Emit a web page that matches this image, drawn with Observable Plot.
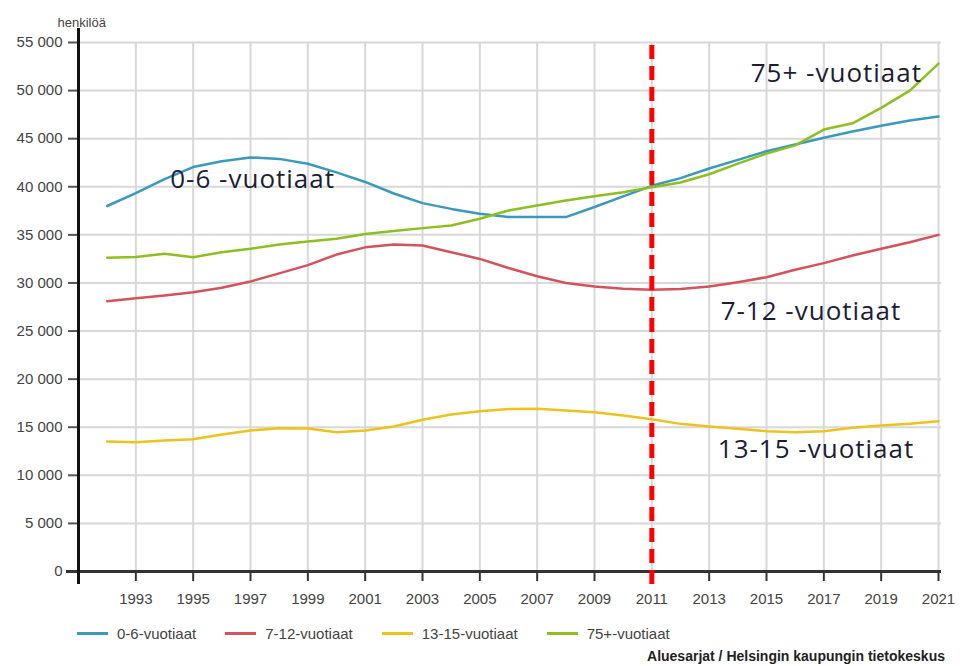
<!DOCTYPE html>
<html><head><meta charset="utf-8">
<script src="https://cdn.jsdelivr.net/npm/d3@7"></script>
<script src="https://cdn.jsdelivr.net/npm/@observablehq/plot@0.6"></script>
<style>
body{margin:0;background:#fff;font-family:"Liberation Sans",Arial,sans-serif;}
#wrap{position:relative;width:960px;height:666px;overflow:hidden;}
#legend{position:absolute;left:77px;top:625px;display:flex;align-items:center;font-size:15px;color:#444;}
.item{display:flex;align-items:center;margin-right:29px}
.sw{width:31px;height:3px;margin-right:9px}
#caption{position:absolute;right:15px;top:648px;font-size:14px;font-weight:bold;color:#222}
.ann text{letter-spacing:1px}
</style></head><body>
<div id="wrap"><div id="chart"></div><div id="legend"></div><div id="caption">Aluesarjat / Helsingin kaupungin tietokeskus</div></div>
<script>
const years = [1992,1993,1994,1995,1996,1997,1998,1999,2000,2001,2002,2003,2004,2005,2006,2007,2008,2009,2010,2011,2012,2013,2014,2015,2016,2017,2018,2019,2020,2021];
const seriesNames = ["0-6-vuotiaat","7-12-vuotiaat","13-15-vuotiaat","75+-vuotiaat"];
const colors = ["#3a99bd","#d6525a","#eec21c","#8cc021"];
const age0_6 = [38000,39350,40800,42050,42650,43050,42900,42400,41500,40500,39300,38300,37700,37200,36850,36850,36850,37900,39000,40100,40900,41900,42800,43700,44400,45100,45750,46350,46900,47300];
const age7_12 = [28100,28420,28700,29040,29500,30150,31000,31850,32950,33700,34000,33900,33200,32500,31550,30700,30000,29630,29390,29290,29380,29620,30080,30600,31370,32060,32850,33550,34240,35000];
const age13_15 = [13520,13450,13620,13760,14240,14660,14900,14870,14480,14660,15080,15770,16320,16670,16900,16910,16740,16560,16220,15820,15350,15080,14840,14590,14480,14590,14940,15180,15350,15630];
const age75 = [32620,32700,33030,32680,33200,33550,34000,34300,34600,35100,35400,35700,35970,36670,37530,38050,38570,39020,39440,39960,40450,41300,42400,43450,44300,45950,46600,48200,50000,52800];
const xTicks = [1993,1995,1997,1999,2001,2003,2005,2007,2009,2011,2013,2015,2017,2019,2021];
const yTicks = [0,5000,10000,15000,20000,25000,30000,35000,40000,45000,50000,55000];
const markerYear = [2011];
const annLabels = ["0-6 -vuotiaat","75+ -vuotiaat","7-12 -vuotiaat","13-15 -vuotiaat"];
const annX = [1994.2,2014.45,2013.4,2013.3];
const annY = [40750,51780,27030,12680];

const seriesValues = [age0_6, age7_12, age13_15, age75];
const data = seriesNames.flatMap((s, i) => years.map((yr, j) => ({series: s, year: yr, value: seriesValues[i][j]})));
const annotations = annLabels.map((l, i) => ({label: l, x: annX[i], y: annY[i]}));
const fmt = d3.formatLocale({decimal: ",", thousands: " ", grouping: [3], currency: ["", "€"]}).format(",d");

const chart = Plot.plot({
  width: 960, height: 615,
  marginLeft: 78, marginRight: 22, marginTop: 42, marginBottom: 44,
  style: {fontFamily: "'Liberation Sans', Arial, sans-serif", fontSize: "15px", color: "#444", background: "#fff"},
  x: {domain: [1991, 2021]},
  y: {domain: [0, 55000]},
  color: {domain: seriesNames, range: colors},
  marks: [
    Plot.gridX(xTicks, {stroke: "#d8d8d8", strokeOpacity: 1, strokeWidth: 2}),
    Plot.gridY(yTicks, {stroke: "#d8d8d8", strokeOpacity: 1, strokeWidth: 2, insetRight: -3}),
    Plot.axisX(xTicks, {tickSize: 10, tickPadding: 12, tickFormat: d => String(d), stroke: "#333", strokeWidth: 2, fill: "#444", label: null}),
    Plot.axisY(yTicks, {tickSize: 10, tickPadding: 6, tickFormat: fmt, stroke: "#555", strokeWidth: 2, fill: "#444", label: null}),
    Plot.ruleY([0], {stroke: "#333", strokeWidth: 3, insetLeft: -12, insetRight: -3}),
    Plot.ruleX([1991], {stroke: "#111", strokeWidth: 3, insetTop: -14, insetBottom: -13}),
    Plot.line(data, {x: "year", y: "value", stroke: "series", strokeWidth: 2.5}),
    Plot.ruleX(markerYear, {stroke: "#ff0000", strokeWidth: 5, strokeDasharray: "14,7", insetTop: 3, insetBottom: -13}),
    Plot.text(annotations, {x: "x", y: "y", text: "label", textAnchor: "start", fontSize: 26, fontFamily: "'Open Sans', sans-serif", fill: "#1d1d35", className: "ann"}),
    Plot.text(["henkilöä"], {frameAnchor: "top-left", dx: -21, dy: -25, fontSize: 13, fill: "#444"})
  ]
});
document.getElementById("chart").appendChild(chart);

const legend = document.getElementById("legend");
seriesNames.forEach((s, i) => {
  const item = document.createElement("div");
  item.className = "item";
  const sw = document.createElement("div");
  sw.className = "sw";
  sw.style.background = colors[i];
  const t = document.createElement("span");
  t.textContent = s;
  item.appendChild(sw); item.appendChild(t);
  legend.appendChild(item);
});
</script>
</body></html>
